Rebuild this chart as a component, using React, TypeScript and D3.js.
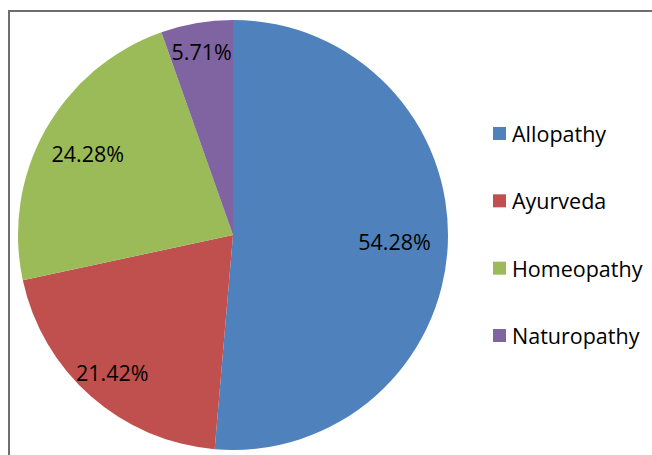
import React from "react";
import * as d3 from "d3";

const categories = ["Allopathy", "Ayurveda", "Homeopathy", "Naturopathy"];
const values = [54.28, 21.42, 24.28, 5.71];
const labels = ["54.28%", "21.42%", "24.28%", "5.71%"];
const colors = ["#4F81BD", "#C0504D", "#9BBB59", "#8064A2"];
const labelRadiusFrac = [0.752, 0.85, 0.774, 0.864];

const W = 652;
const H = 455;
const cx = 233;
const cy = 235;
const R = 215;
const FONT = "'Open Sans', 'Noto Sans', sans-serif";

export default function App() {
  const pie = d3
    .pie<number>()
    .sort(null)
    .value((d) => d)
    .startAngle(0)
    .endAngle(2 * Math.PI);
  const arcs = pie(values);
  const arc = d3.arc<d3.PieArcDatum<number>>().innerRadius(0).outerRadius(R);

  const legendY = d3
    .scalePoint<string>()
    .domain(categories)
    .range([133.5, 335.5]);

  return (
    <svg
      width={W}
      height={H}
      style={{ position: "absolute", left: 0, top: 0, background: "#fff" }}
      fontFamily={FONT}
    >
      <rect x={0} y={0} width={W} height={H} fill="#fff" />
      <line x1={8} y1={11} x2={W} y2={11} stroke="#6e6e6e" strokeWidth={2} />
      <line x1={9} y1={10} x2={9} y2={H} stroke="#6e6e6e" strokeWidth={2} />
      <g transform={`translate(${cx},${cy})`}>
        {arcs.map((a, i) => (
          <path key={i} d={arc(a) || ""} fill={colors[i]} />
        ))}
        {arcs.map((a, i) => {
          const lr = R * labelRadiusFrac[i];
          const la = d3
            .arc<d3.PieArcDatum<number>>()
            .innerRadius(lr)
            .outerRadius(lr);
          const [x, y] = la.centroid(a);
          return (
            <text
              key={i}
              x={x}
              y={y}
              textAnchor="middle"
              dominantBaseline="central"
              fontSize={21.5}
              fill="#000"
            >
              {labels[i]}
            </text>
          );
        })}
      </g>
      <g>
        {categories.map((c, i) => {
          const y = legendY(c) as number;
          return (
            <g key={c}>
              <rect x={493} y={y - 6.5} width={13} height={13} fill={colors[i]} />
              <text
                x={512}
                y={y}
                dominantBaseline="central"
                fontSize={21.5}
                fill="#000"
              >
                {c}
              </text>
            </g>
          );
        })}
      </g>
    </svg>
  );
}
